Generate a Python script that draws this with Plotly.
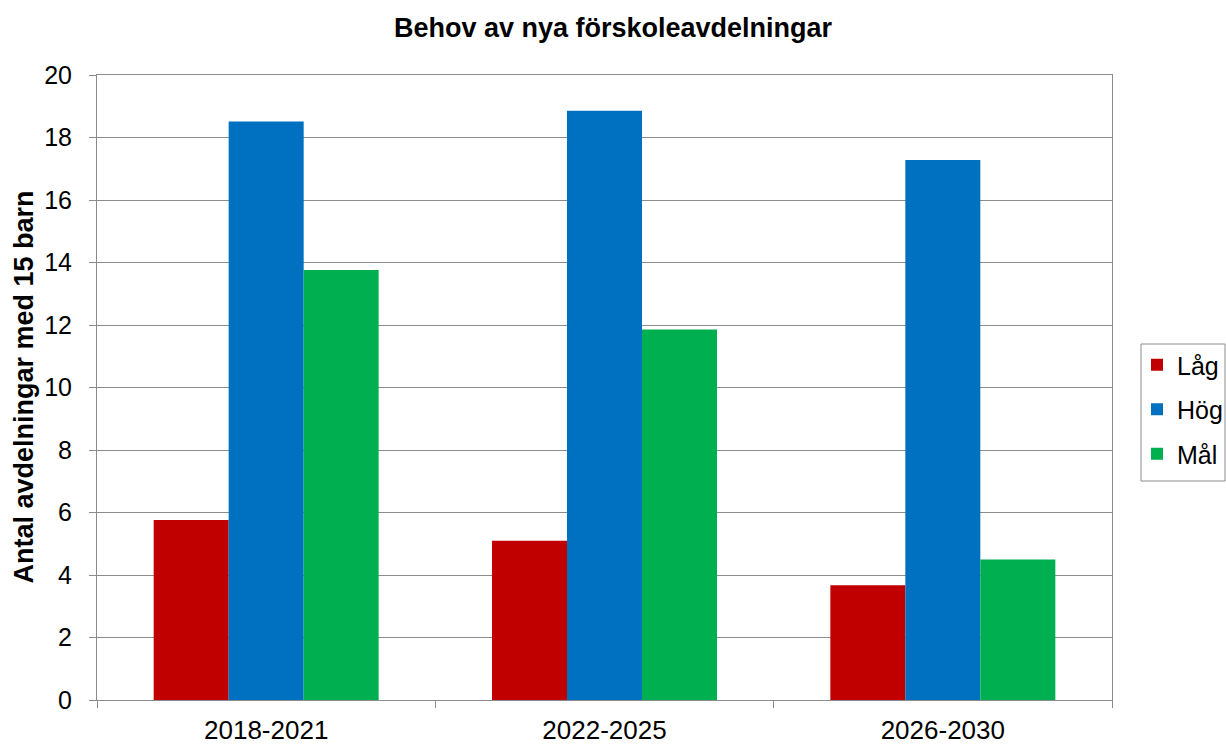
import plotly.graph_objects as go

perioder = ["2018-2021", "2022-2025", "2026-2030"]
lag = [5.76, 5.10, 3.67]
hog = [18.51, 18.86, 17.28]
mal = [13.76, 11.86, 4.50]

serier = [("Låg", lag, "#C00000"), ("Hög", hog, "#0070C0"), ("Mål", mal, "#00B050")]

fig = go.Figure()
for namn, varden, farg in serier:
    fig.add_trace(go.Bar(x=perioder, y=varden, name=namn, legendgroup=namn,
                         marker=dict(color=farg, line=dict(width=0))))

fig.update_layout(
    width=1226, height=745,
    margin=dict(l=97, r=114, t=75, b=45, autoexpand=False),
    paper_bgcolor="white", plot_bgcolor="white",
    font=dict(family="Liberation Sans, Arial, sans-serif", color="black"),
    title=dict(text="<b>Behov av nya förskoleavdelningar</b>", x=613 / 1226, xref="container",
               xanchor="center", y=1 - 28 / 745, yanchor="middle", font=dict(size=27)),
    barmode="group", bargap=0.335, bargroupgap=0,
    legend=dict(x=(1137 - 97) / 1015, y=(700 - 342) / 625, xanchor="left", yanchor="top",
                bgcolor="rgba(0,0,0,0)", borderwidth=0, font=dict(size=25),
                traceorder="grouped", tracegroupgap=9, itemwidth=30),
)
# ram runt förklaringen
fig.add_shape(type="rect", xref="paper", yref="paper",
              x0=(1141 - 97) / 1015, x1=(1225 - 97) / 1015,
              y0=(700 - 481) / 625, y1=(700 - 344) / 625,
              line=dict(color="#8c8c8c", width=1), fillcolor="rgba(0,0,0,0)")
# y-axelns rubrik som annotation så att marginalen inte ändras
fig.add_annotation(text="<b>Antal avdelningar med 15 barn</b>", textangle=-90,
                   xref="paper", yref="paper", x=(23 - 97) / 1015, y=0.5,
                   xanchor="center", yanchor="middle", showarrow=False,
                   font=dict(size=27))
fig.update_yaxes(range=[0, 20], dtick=2, showgrid=True, gridcolor="#8c8c8c", gridwidth=1,
                 showline=True, linecolor="#8c8c8c", linewidth=1, mirror=True,
                 ticks="outside", ticklen=7, tickcolor="#8c8c8c", tickfont=dict(size=25),
                 ticklabelstandoff=12, automargin=False, zeroline=False)
fig.update_xaxes(showline=True, linecolor="#8c8c8c", linewidth=1, mirror=True,
                 ticks="outside", ticklen=7, tickcolor="#8c8c8c", tickson="boundaries",
                 tickfont=dict(size=26), ticklabelstandoff=7, automargin=False)

# ta bort sidans standardmarginal så att figuren fyller fönstret
fig.write_html("out.html", config={"displayModeBar": False},
               post_script="document.body.style.margin='0';document.body.style.overflow='hidden';")
